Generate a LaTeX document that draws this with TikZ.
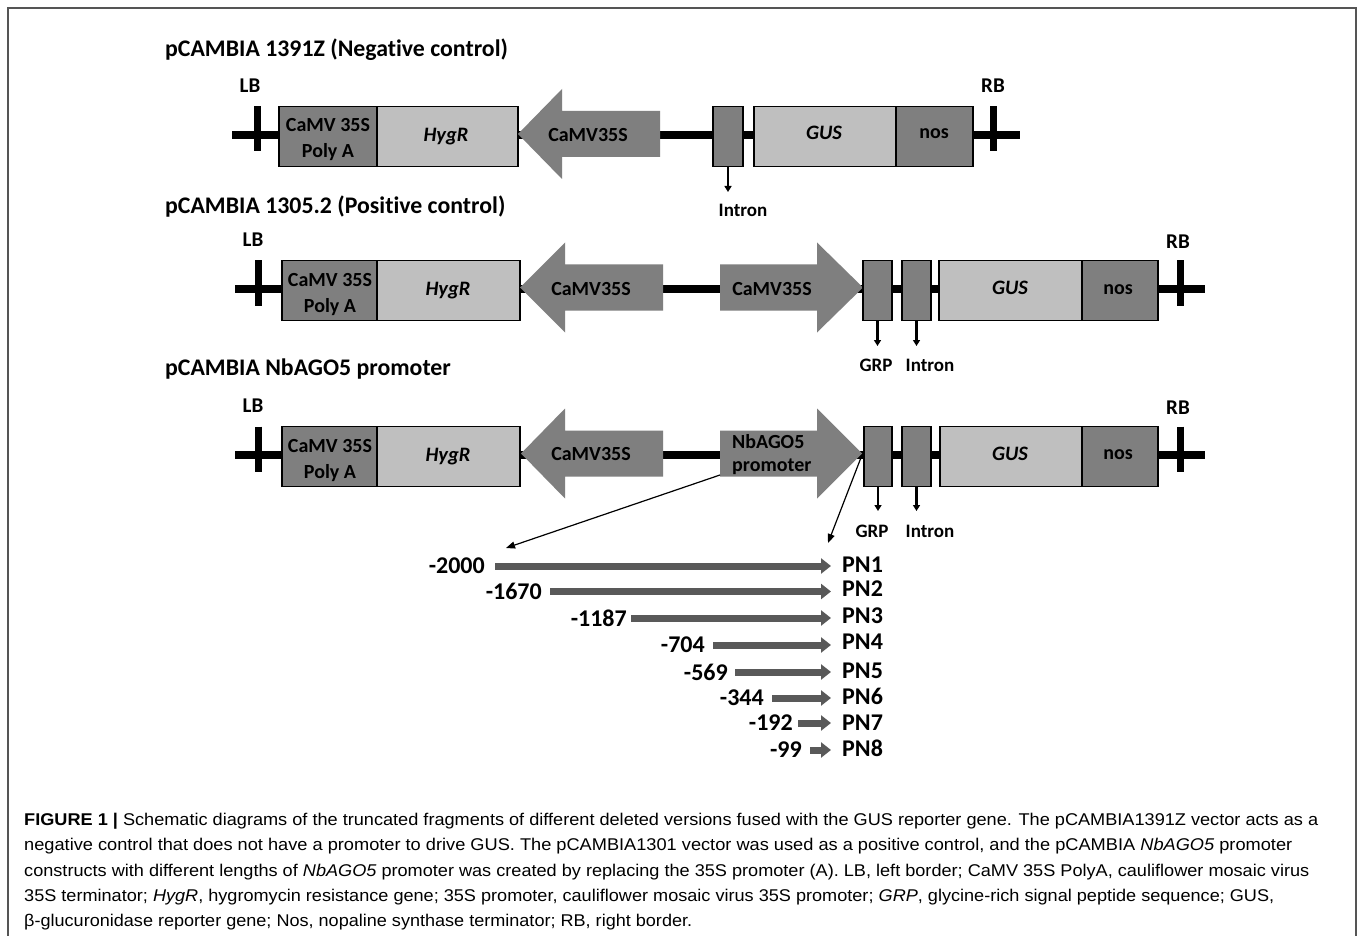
\documentclass[tikz,border=0pt]{standalone}
\usepackage{fontspec}
\usepackage{graphicx}
\setmainfont{Carlito}[Ligatures=NoCommon]
\newfontfamily\capfont{Liberation Sans}
\usetikzlibrary{arrows.meta}
\definecolor{dgray}{HTML}{7F7F7F}
\definecolor{lgray}{HTML}{BFBFBF}
\definecolor{fgray}{HTML}{595959}
\definecolor{framec}{HTML}{555555}
\newcommand\LArr[4]{\fill[dgray] (#1,#4) -- (#2,#4-45) -- (#2,#4-23) -- (#3,#4-23) -- (#3,#4+23) -- (#2,#4+23) -- (#2,#4+45) -- cycle;}
\newcommand\RArr[4]{\fill[dgray] (#3,#4) -- (#2,#4-45) -- (#2,#4-23) -- (#1,#4-23) -- (#1,#4+23) -- (#2,#4+23) -- (#2,#4+45) -- cycle;}
\begin{document}
\begin{tikzpicture}[x=1pt,y=-1pt,
  box/.style={draw=black, line width=1.2pt, inner sep=0pt, minimum height=59.5pt},
  dbox/.style={box, fill=dgray},
  lbox/.style={box, fill=lgray},
  txt/.style={font=\bfseries\fontsize{20pt}{26.5pt}\selectfont, inner sep=0pt, align=center},
  itxt/.style={font=\bfseries\itshape\fontsize{20.5pt}{26pt}\selectfont, inner sep=0pt},
  lbl/.style={font=\bfseries\fontsize{19pt}{24pt}\selectfont, inner sep=0pt},
  ttl/.style={font=\bfseries\fontsize{23.8pt}{27pt}\selectfont, inner sep=0pt, anchor=west},
  bord/.style={font=\bfseries\fontsize{21pt}{25pt}\selectfont, inner sep=0pt},
  backbone/.style={line width=8pt},
  tickmark/.style={line width=7pt},
  marker/.style={line width=2.5pt, -{Triangle[length=6pt,width=7pt]}},
  frag/.style={fgray, line width=7pt, -{Triangle[length=10pt,width=15pt]}},
  num/.style={font=\bfseries\fontsize{24pt}{28pt}\selectfont, inner sep=0pt, anchor=east},
  pn/.style={font=\bfseries\fontsize{24pt}{28pt}\selectfont, inner sep=0pt, anchor=west},
  capline/.style={font=\capfont\fontsize{17pt}{20pt}\selectfont, inner sep=0pt, anchor=west},
  ptr/.style={line width=1.2pt, -{Triangle[length=9pt,width=7pt]}}
]
\useasboundingbox (0,0) rectangle (1358,936);
\fill[white] (0,0) rectangle (1358,936);
\draw[framec, line width=1.5pt] (8,936) -- (8,8) -- (1356,8) -- (1356,936);

% ---------------- Row 1 ----------------
\node[ttl] (t1) at (165,49.5) {pCAMBIA 1391Z (Negative control)};
\node[bord] (lb1) at (250,86) {LB};
\node[bord] (rb1) at (993,86) {RB};
\coordinate (b1s) at (232,135);
\coordinate (b1e) at (1020,135);
\draw[backbone] (b1s) -- (b1e);
\draw[tickmark] (257,106.5) -- (257,151.5);
\draw[tickmark] (993,106.5) -- (993,151.5);
\node[dbox, minimum width=98pt] (pa1) at (328,136.5) {};
\node[lbox, minimum width=141pt] (hy1) at (447.5,136.5) {};
\LArr{518}{562}{660}{134}
\node[dbox, minimum width=30pt] (in1) at (728,136.5) {};
\node[lbox, minimum width=142pt] (gu1) at (825,136.5) {};
\node[dbox, minimum width=77pt] (no1) at (934.5,136.5) {};
\node[txt] at (328,139.5) {CaMV 35S\\Poly A};
\node[itxt] at (446,137) {HygR};
\node[txt] (c1) at (588,135) {CaMV35S};
\node[itxt] at (824,133) {GUS};
\node[txt] at (934,134) {nos};
\coordinate (m1) at (728,192);
\draw[marker] (in1.south) -- (m1);
\node[lbl] (il1) at (743,210) {Intron};

% ---------------- Row 2 ----------------
\node[ttl] (t2) at (165,206.5) {pCAMBIA 1305.2 (Positive control)};
\node[bord] (lb2) at (253,240) {LB};
\node[bord] (rb2) at (1178,242) {RB};
\coordinate (b2s) at (235,289);
\coordinate (b2e) at (1205,289);
\draw[backbone] (b2s) -- (b2e);
\draw[tickmark] (258,260.5) -- (258,305.5);
\draw[tickmark] (1180,260.5) -- (1180,305.5);
\node[dbox, minimum width=95pt] (pa2) at (329.5,290.5) {};
\node[lbox, minimum width=143pt] (hy2) at (448.5,290.5) {};
\LArr{520}{565}{663}{287.5}
\RArr{720}{817}{863}{287.5}
\node[dbox, minimum width=29pt] (gr2) at (877.5,290.5) {};
\node[dbox, minimum width=29pt] (in2) at (916.5,290.5) {};
\node[lbox, minimum width=143pt] (gu2) at (1010.5,290.5) {};
\node[dbox, minimum width=76pt] (no2) at (1120,290.5) {};
\node[txt] at (330,294.5) {CaMV 35S\\Poly A};
\node[itxt] at (448,290.5) {HygR};
\node[txt] at (591,289) {CaMV35S};
\node[txt] at (772,289) {CaMV35S};
\node[itxt] at (1010,288) {GUS};
\node[txt] at (1118,290) {nos};
\coordinate (m2a) at (877.5,346);
\coordinate (m2b) at (916.5,346);
\draw[marker] (gr2.south) -- (m2a);
\draw[marker] (in2.south) -- (m2b);
\node[lbl] (gl2) at (876,365) {GRP};
\node[lbl] (il2) at (930,365) {Intron};

% ---------------- Row 3 ----------------
\node[ttl] (t3) at (165,369.5) {pCAMBIA NbAGO5 promoter};
\node[bord] (lb3) at (253,406) {LB};
\node[bord] (rb3) at (1178,408) {RB};
\coordinate (b3s) at (235,454.5);
\coordinate (b3e) at (1205,454.5);
\draw[backbone] (b3s) -- (b3e);
\draw[tickmark] (258,426.5) -- (258,471.5);
\draw[tickmark] (1180,426.5) -- (1180,471.5);
\node[dbox, minimum width=95pt] (pa3) at (329.5,456.5) {};
\node[lbox, minimum width=143pt] (hy3) at (448.5,456.5) {};
\LArr{521}{565}{663}{453.5}
\RArr{720}{817}{862}{453.5}
\node[dbox, minimum width=28pt] (gr3) at (878,456.5) {};
\node[dbox, minimum width=29pt] (in3) at (916.5,456.5) {};
\node[lbox, minimum width=142pt] (gu3) at (1011,456.5) {};
\node[dbox, minimum width=76pt] (no3) at (1120,456.5) {};
\node[txt] at (330,460.5) {CaMV 35S\\Poly A};
\node[itxt] at (448,456.5) {HygR};
\node[txt] at (591,454) {CaMV35S};
\node[font=\bfseries\fontsize{20pt}{23.5pt}\selectfont, inner sep=0pt, align=left, anchor=west] (pr3) at (732,454.5) {NbAGO5\\promoter};
\node[itxt] at (1010,454) {GUS};
\node[txt] at (1118,455) {nos};
\coordinate (m3a) at (878,511);
\coordinate (m3b) at (916.5,511);
\draw[marker] (gr3.south) -- (m3a);
\draw[marker] (in3.south) -- (m3b);
\node[lbl] (gl3) at (872,531) {GRP};
\node[lbl] (il3) at (930,531) {Intron};

% pointers to the fragments
\coordinate (pa) at (720,475);
\coordinate (pb) at (506,548);
\coordinate (pc) at (862,455);
\coordinate (pd) at (828,543);
\draw[ptr] (pa) -- (pb);
\draw[ptr] (pc) -- (pd);

% ---------------- Fragments ----------------
\foreach \i/\y/\s/\r/\nm/\ly in {1/566/495/485/-2000/565, 2/591.5/550/542/-1670/589, 3/618/631/627/-1187/616, 4/645/713/705/-704/642, 5/672/735/728/-569/671, 6/698/772/764/-344/696, 7/723/798/793/-192/723, 8/750/810/802/-99/748}{
  \node[num] (n\i) at (\r,\y) {\nm};
  \coordinate (fs\i) at (\s,\y);
  \coordinate (fe\i) at (831,\y);
  \draw[frag] (fs\i) -- (fe\i);
  \node[pn] (p\i) at (842,\ly) {PN\i};
}

% ---------------- Caption ----------------
\node[capline] (cap1) at (24,821) {\resizebox{1294pt}{\height}{\textbf{FIGURE 1 |} Schematic diagrams of the truncated fragments of different deleted versions fused with the GUS reporter gene. The pCAMBIA1391Z vector acts as a}};
\node[capline] (cap2) at (24,846.5) {\resizebox{1268pt}{\height}{negative control that does not have a promoter to drive GUS. The pCAMBIA1301 vector was used as a positive control, and the pCAMBIA \textit{NbAGO5} promoter}};
\node[capline] (cap3) at (24,872) {\resizebox{1285pt}{\height}{constructs with different lengths of \textit{NbAGO5} promoter was created by replacing the 35S promoter (A). LB, left border; CaMV 35S PolyA, cauliflower mosaic virus}};
\node[capline] (cap4) at (24,897.5) {\resizebox{1250pt}{\height}{35S terminator; \textit{HygR}, hygromycin resistance gene; 35S promoter, cauliflower mosaic virus 35S promoter; \textit{GRP}, glycine-rich signal peptide sequence; GUS,}};
\node[capline] (cap5) at (24,922.5) {\resizebox{668pt}{\height}{β-glucuronidase reporter gene; Nos, nopaline synthase terminator; RB, right border.}};
\end{tikzpicture}
\end{document}
